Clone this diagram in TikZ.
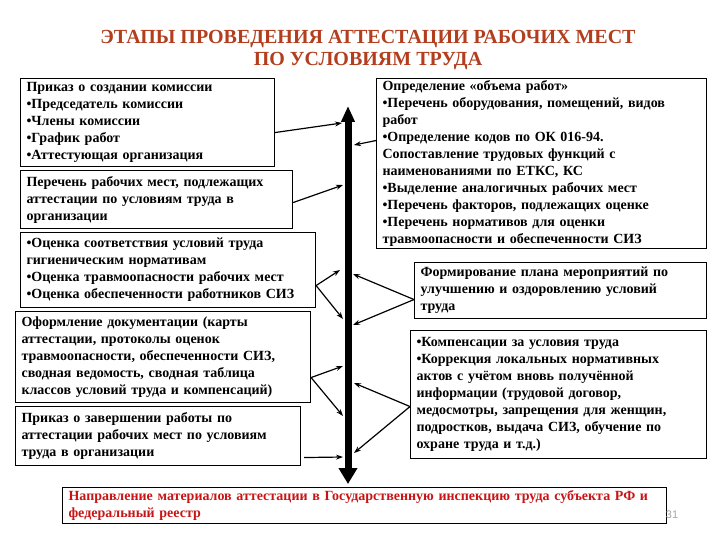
\documentclass[tikz,border=0pt]{standalone}
\usepackage{fontspec}
\setmainfont{Liberation Serif}
\newfontfamily\pagefont{Liberation Sans}
\usepackage{tikz}
\usetikzlibrary{arrows.meta}
\definecolor{titlered}{RGB}{178,62,30}
\definecolor{notered}{RGB}{200,20,20}
\tikzset{
  stage/.style={draw, line width=1.1pt, anchor=north west, align=left,
    inner xsep=6pt, inner ysep=2pt, font=\bfseries\fontsize{14}{17}\selectfont},
  link/.style={->, line width=1.2pt},
}

\begin{document}
\begin{tikzpicture}[x=1pt, y=-1pt, >={Stealth[length=7pt, width=5pt]}]
        \useasboundingbox (0,0) rectangle (720,540);

        % Title
        \node[text=titlered, align=center, font=\bfseries\fontsize{20}{22}\selectfont] (title) at (368,50)
            {ЭТАПЫ ПРОВЕДЕНИЯ АТТЕСТАЦИИ РАБОЧИХ МЕСТ\\ПО УСЛОВИЯМ ТРУДА};

        % Left column
        \node[stage, minimum width=254pt, minimum height=88pt, text width=242pt] (b1) at (20,78)
            {Приказ о создании комиссии\\•Председатель комиссии\\•Члены комиссии\\•График работ\\•Аттестующая организация};
        \node[stage, minimum width=272pt, minimum height=58pt, text width=260pt] (b2) at (20,170)
            {Перечень рабочих мест, подлежащих\\аттестации по условиям труда в\\организации};
        \node[stage, minimum width=295pt, minimum height=75pt, text width=283pt] (b3) at (20,232)
            {•Оценка соответствия условий труда\\гигиеническим нормативам\\•Оценка травмоопасности рабочих мест\\•Оценка обеспеченности работников СИЗ};
        \node[stage, minimum width=295pt, minimum height=91pt, text width=283pt] (b4) at (15,311)
            {Оформление документации (карты\\аттестации, протоколы оценок\\травмоопасности, обеспеченности СИЗ,\\сводная ведомость, сводная таблица\\классов условий труда и компенсаций)};
        \node[stage, minimum width=285pt, minimum height=59pt, text width=273pt] (b5) at (15,406)
            {Приказ о завершении работы по\\аттестации рабочих мест по условиям\\труда в организации};

        % Right column
        \node[stage, minimum width=330pt, minimum height=170pt, text width=318pt] (r1) at (376,78)
            {Определение «объема работ»\\•Перечень оборудования, помещений, видов\\работ\\•Определение кодов по ОК 016-94.\\Сопоставление трудовых функций с\\наименованиями по ЕТКС, КС\\•Выделение аналогичных рабочих мест\\•Перечень факторов, подлежащих оценке\\•Перечень нормативов для оценки\\травмоопасности и обеспеченности СИЗ};
        \node[stage, minimum width=292pt, minimum height=56pt, text width=280pt] (r2) at (414,262)
            {Формирование плана мероприятий по\\улучшению и оздоровлению условий\\труда};
        \node[stage, minimum width=296pt, minimum height=128pt, text width=284pt] (r3) at (410,330)
            {•Компенсации за условия труда\\•Коррекция локальных нормативных\\актов с учётом вновь получённой\\информации (трудовой договор,\\медосмотры, запрещения для женщин,\\подростков, выдача СИЗ, обучение по\\охране труда и т.д.)};

        % Bottom
        \node[stage, text=notered, minimum width=604pt, minimum height=36pt, text width=592pt] (fin) at (62,487)
            {Направление материалов аттестации в Государственную инспекцию труда субъекта РФ и\\федеральный реестр};
        \node[text=gray!70, font=\pagefont\fontsize{11}{13}\selectfont] (page) at (672,515) {31};

        % Main axis
        \coordinate (top) at (348,106);
        \coordinate (bot) at (348,484);
        \draw[line width=7pt, {Triangle[length=16pt, width=13pt]}-{Triangle[length=16pt, width=18pt]}] (top) -- (bot);

        % Points on the axis
        \coordinate (p1) at (342,123);
        \coordinate (p2) at (354,145);
        \coordinate (p3) at (343,185);
        \coordinate (p4) at (340,270);
        \coordinate (p5) at (343,319);
        \coordinate (p6) at (353,274);
        \coordinate (p7) at (353,325);
        \coordinate (p8) at (343,366);
        \coordinate (p9) at (343,416);
        \coordinate (p10) at (354,383);
        \coordinate (p11) at (354,453);
        \coordinate (p12) at (343,457);

        % Directed edges
        \draw[link] ([yshift=-10pt]b1.east) -- (p1);
        \draw[link] ([yshift=23pt]r1.west) -- (p2);
        \draw[link] ([yshift=-3pt]b2.east) -- (p3);
        \draw[link] ([yshift=-15.5pt]b3.east) -- (p4);
        \draw[link] ([yshift=-15.5pt]b3.east) -- (p5);
        \draw[link] ([yshift=-9pt]r2.west) -- (p6);
        \draw[link] ([yshift=-9pt]r2.west) -- (p7);
        \draw[link] ([yshift=-20.5pt]b4.east) -- (p8);
        \draw[link] ([yshift=-20.5pt]b4.east) -- (p9);
        \draw[link] ([yshift=-12pt]r3.west) -- (p10);
        \draw[link] ([yshift=-12pt]r3.west) -- (p11);
        \draw[link] ([xshift=3pt, yshift=-21.5pt]b5.east) -- (p12);
    \end{tikzpicture}
\end{document}
